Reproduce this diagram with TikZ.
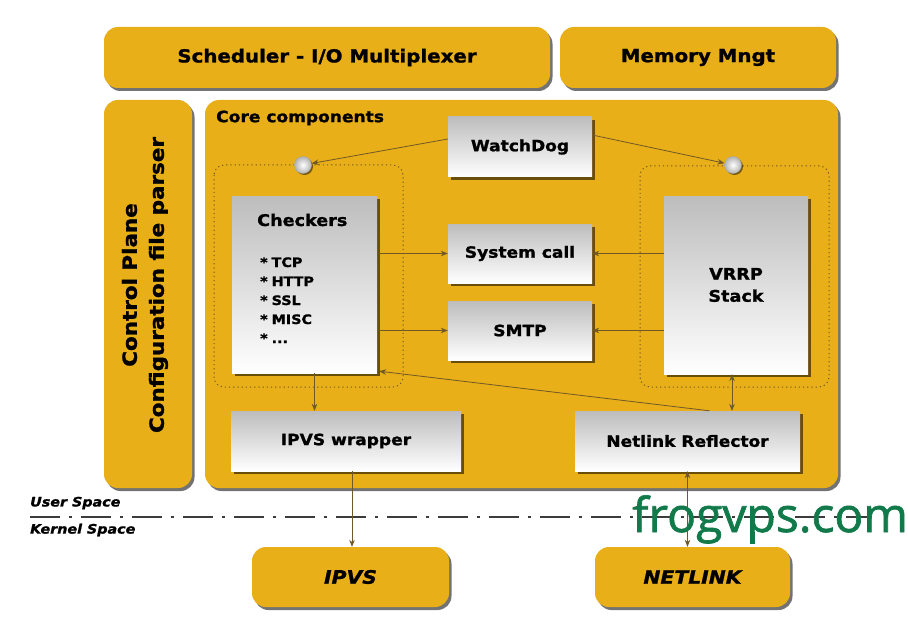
\documentclass[tikz,border=0pt]{standalone}
\usepackage{fontspec}
\setmainfont{DejaVu Sans}[FakeStretch=1.1,BoldFeatures={FakeBold=1.3},BoldItalicFeatures={FakeBold=1.3}]
\newfontfamily\wmfont{Open Sans}[FakeBold=1.4]
\usetikzlibrary{shadows,arrows.meta}
\definecolor{org}{RGB}{233,175,24}
\definecolor{arrc}{RGB}{112,88,40}
\definecolor{wmc}{RGB}{18,122,74}
\definecolor{dd}{RGB}{60,60,60}
\tikzset{
  shad/.style={drop shadow={shadow xshift=2.5pt,shadow yshift=-3pt,fill=black,opacity=0.55}},
  orangebox/.style={fill=org,rounded corners=14pt,inner sep=0pt,shad,font=\bfseries\fontsize{18}{22}\selectfont},
  graybox/.style={top color=black!26,middle color=black!6,bottom color=white,inner sep=0pt,shad,font=\bfseries\fontsize{15.5}{22}\selectfont},
  dotbox/.style={draw=arrc,line width=1pt,dash pattern=on 1.2pt off 3pt,rounded corners=10pt},
  ball/.style={circle,minimum size=17pt,inner sep=0pt,inner color=white,outer color=black!30,draw=black!35,line width=0.4pt,
    drop shadow={shadow xshift=1.5pt,shadow yshift=-1.5pt,fill=black,opacity=0.5}},
  arr/.style={draw=arrc,line width=0.8pt,-{Stealth[length=7pt,width=5.5pt]}},
  darr/.style={draw=arrc,line width=0.8pt,{Stealth[length=7pt,width=5.5pt]}-{Stealth[length=7pt,width=5.5pt]}},
  plain/.style={font=\bfseries\fontsize{15.5}{22}\selectfont,inner sep=0pt},
  listitem/.style={font=\bfseries\fontsize{13}{16}\selectfont,inner sep=0pt,anchor=base west},
  spacelabel/.style={font=\bfseries\itshape\fontsize{13}{16}\selectfont,inner sep=0pt,anchor=west},
  dashdot/.style={draw=dd,line width=1.8pt,dash pattern=on 30pt off 9pt on 3pt off 9pt}
}
\begin{document}
\begin{tikzpicture}[x=1pt,y=-1pt]
\useasboundingbox (0,0) rectangle (908,623);
\fill[white] (0,0) rectangle (908,623);
% top bars
\node[orangebox,minimum width=446,minimum height=61] (sched) at (327,57.5) {Scheduler - I/O Multiplexer};
\node[orangebox,minimum width=276,minimum height=61] (mem) at (698,57.5) {Memory Mngt};
% control plane
\node[orangebox,minimum width=88,minimum height=388] (ctrl) at (148,294) {};
\node[rotate=90,align=center,inner sep=0pt,font=\bfseries\fontsize{19.5}{27}\selectfont] (ctrltxt) at (145,285) {Control Plane\\Configuration file parser};
% core
\node[orangebox,minimum width=633,minimum height=388] (core) at (521.5,294) {};
\node[plain,anchor=west] (corelbl) at (216,118) {Core components};
% dotted groups
\draw[dotbox] (214,165) rectangle (403,387);
\draw[dotbox] (640,166) rectangle (829,387);
% boxes
\node[graybox,minimum width=144,minimum height=60] (wd) at (520,147) {WatchDog};
\node[graybox,minimum width=145,minimum height=177] (chk) at (304.5,284.5) {};
\node[graybox,minimum width=144,minimum height=59] (sys) at (520,253.5) {System call};
\node[graybox,minimum width=144,minimum height=59] (smtp) at (520,330.5) {SMTP};
\node[graybox,minimum width=144,minimum height=178,align=center,font=\bfseries\fontsize{16}{22}\selectfont] (vrrp) at (736,285) {VRRP\\Stack};
\node[graybox,minimum width=230,minimum height=60] (ipvsw) at (346,441) {IPVS wrapper};
\node[graybox,minimum width=225,minimum height=60] (netref) at (687.5,441) {Netlink Reflector};
% checkers text
\node[plain,anchor=west,font=\bfseries\fontsize{16}{20}\selectfont] (chkt) at (257,220) {Checkers};
\node[listitem] (chk1) at (260,267) {*\hspace{4pt}TCP};
\node[listitem] (chk2) at (260,286) {*\hspace{4pt}HTTP};
\node[listitem] (chk3) at (260,305) {*\hspace{4pt}SSL};
\node[listitem] (chk4) at (260,324) {*\hspace{4pt}MISC};
\node[listitem] (chk5) at (260,343) {*\hspace{4pt}...};
% balls
\node[ball] (cl) at (303,165) {};
\node[ball] (cr) at (733,165) {};
% kernel boxes
\node[orangebox,font=\bfseries\itshape\fontsize{18.5}{22}\selectfont,minimum width=197,minimum height=60] (ipvs) at (350.5,577) {IPVS};
\node[orangebox,font=\bfseries\itshape\fontsize{18.5}{22}\selectfont,minimum width=195,minimum height=60] (netlink) at (692.5,577) {NETLINK};
% connectors
\draw[arr] ([yshift=8pt]wd.west) -- (cl);
\draw[arr] ([yshift=12pt]wd.east) -- (cr);
\draw[arr] (chk.east |- sys) -- (sys.west);
\draw[arr] (chk.east |- smtp) -- (smtp.west);
\draw[arr] (vrrp.west |- sys) -- (sys.east);
\draw[arr] (vrrp.west |- smtp) -- (smtp.east);
\draw[arr] ([xshift=10pt]chk.south) -- ([xshift=10pt]chk.south |- ipvsw.north);
\draw[arr] ([xshift=22pt]netref.north) -- ([xshift=2pt,yshift=2pt]chk.south east);
\draw[darr] ([xshift=-4pt]vrrp.south) -- ([xshift=-4pt]vrrp.south |- netref.north);
% user / kernel space
\coordinate (ls) at (30,517);
\coordinate (le) at (872,517);
\draw[dashdot] (ls) -- (le);
\node[spacelabel] (us) at (30,503) {User Space};
\node[spacelabel] (ks) at (30,530) {Kernel Space};
\draw[arr] ([xshift=6pt]ipvsw.south) -- ([xshift=6pt]ipvsw.south |- ipvs.north);
\draw[darr] (netref.south) -- (netref.south |- netlink.north);
% watermark
\node[anchor=base west,inner sep=0pt,text=wmc,font=\wmfont\fontsize{48}{50}\selectfont] (wm) at (632,532) {frogvps.com};
\end{tikzpicture}
\end{document}
